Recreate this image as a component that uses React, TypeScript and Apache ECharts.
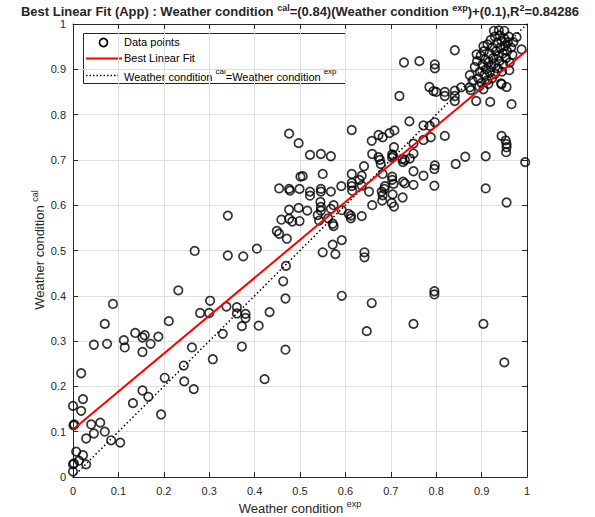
import React, { useEffect, useRef } from 'react';
import * as echarts from 'echarts';

// Data points: [Weather condition exp, Weather condition cal]
const lowPoints: number[][] = [
  [0.000, 0.012], [0.002, 0.030], [0.000, 0.028], [0.007, 0.056], [0.013, 0.036], [0.022, 0.048], [0.029, 0.028],
  [0.000, 0.157], [0.018, 0.146], [0.022, 0.172], [0.018, 0.229], [0.001, 0.114], [0.003, 0.116],
  [0.029, 0.085], [0.040, 0.116], [0.046, 0.096], [0.060, 0.120], [0.070, 0.100], [0.084, 0.081], [0.104, 0.076],
  [0.046, 0.292], [0.070, 0.338], [0.075, 0.294], [0.088, 0.382], [0.112, 0.302], [0.114, 0.286],
  [0.132, 0.163], [0.137, 0.318], [0.153, 0.191], [0.153, 0.308], [0.158, 0.313], [0.153, 0.276], [0.166, 0.177],
  [0.171, 0.294], [0.188, 0.310], [0.194, 0.138], [0.202, 0.219], [0.211, 0.344], [0.232, 0.412], [0.244, 0.246],
  [0.245, 0.211], [0.262, 0.286], [0.266, 0.194], [0.280, 0.362], [0.300, 0.362], [0.302, 0.389], [0.308, 0.260],
  [0.330, 0.316], [0.338, 0.376], [0.361, 0.375], [0.361, 0.361], [0.380, 0.360], [0.380, 0.351], [0.372, 0.333],
  [0.372, 0.288], [0.409, 0.334], [0.422, 0.216], [0.433, 0.364], [0.468, 0.394], [0.468, 0.281], [0.463, 0.432],
  [0.469, 0.466],
];

const midLeftPoints: number[][] = [
  [0.268, 0.499], [0.341, 0.577], [0.341, 0.489], [0.375, 0.487], [0.405, 0.504],
  [0.449, 0.543], [0.454, 0.537], [0.471, 0.526], [0.459, 0.568], [0.476, 0.590], [0.476, 0.570], [0.483, 0.564],
  [0.499, 0.565], [0.497, 0.594], [0.454, 0.637], [0.476, 0.636], [0.478, 0.632], [0.499, 0.636], [0.501, 0.663],
  [0.476, 0.758], [0.497, 0.737],
];

const midRightPoints: number[][] = [
  [0.719, 0.841], [0.797, 0.783], [0.741, 0.785], [0.772, 0.776], [0.786, 0.775],
  [0.614, 0.766], [0.673, 0.755], [0.682, 0.750], [0.697, 0.759], [0.708, 0.765], [0.658, 0.742],
  [0.750, 0.736], [0.772, 0.744], [0.788, 0.750], [0.819, 0.753],
  [0.944, 0.753], [0.953, 0.743], [0.955, 0.735], [0.955, 0.728], [0.954, 0.717],
  [0.522, 0.711], [0.546, 0.713], [0.568, 0.708], [0.659, 0.713], [0.707, 0.728],
  [0.703, 0.712], [0.705, 0.709], [0.703, 0.705], [0.673, 0.706], [0.676, 0.700], [0.678, 0.691],
  [0.725, 0.702], [0.727, 0.695], [0.731, 0.700], [0.742, 0.703], [0.750, 0.714],
  [0.864, 0.707], [0.909, 0.708], [0.843, 0.691], [0.797, 0.688], [0.796, 0.680], [0.996, 0.695],
  [0.506, 0.664], [0.550, 0.669], [0.641, 0.686], [0.614, 0.669], [0.636, 0.665], [0.631, 0.656], [0.682, 0.669],
  [0.703, 0.663], [0.703, 0.656], [0.706, 0.647], [0.750, 0.675], [0.772, 0.665], [0.727, 0.652], [0.731, 0.648],
  [0.750, 0.645], [0.796, 0.643], [0.909, 0.637],
  [0.522, 0.630], [0.522, 0.621], [0.546, 0.636], [0.546, 0.630], [0.568, 0.630], [0.591, 0.642],
  [0.614, 0.649], [0.614, 0.642], [0.615, 0.632], [0.636, 0.643], [0.652, 0.630],
  [0.680, 0.630], [0.682, 0.622], [0.687, 0.642], [0.686, 0.636],
  [0.704, 0.624], [0.702, 0.605], [0.707, 0.597], [0.681, 0.610], [0.659, 0.600], [0.726, 0.617],
  [0.516, 0.588], [0.545, 0.607], [0.546, 0.596], [0.546, 0.588], [0.539, 0.578], [0.542, 0.566],
  [0.568, 0.592], [0.574, 0.600], [0.562, 0.571], [0.572, 0.559], [0.574, 0.554], [0.592, 0.589],
  [0.607, 0.581], [0.612, 0.577], [0.612, 0.571], [0.636, 0.576],
  [0.592, 0.523], [0.572, 0.513], [0.550, 0.496], [0.578, 0.492], [0.642, 0.496], [0.642, 0.485],
  [0.796, 0.410], [0.796, 0.403], [0.592, 0.400], [0.955, 0.606],
];

const lowRightPoints: number[][] = [
  [0.658, 0.384], [0.647, 0.322], [0.750, 0.338], [0.904, 0.338], [0.950, 0.253],
];

const highPoints: number[][] = [
  [0.729, 0.915], [0.763, 0.918], [0.797, 0.911], [0.797, 0.902],
  [0.785, 0.861], [0.794, 0.852], [0.800, 0.850], [0.819, 0.850], [0.819, 0.841],
  [0.841, 0.853], [0.841, 0.841], [0.841, 0.830], [0.855, 0.860], [0.874, 0.860],
  [0.841, 0.942], [0.938, 0.986], [0.977, 0.971], [0.988, 0.944], [0.874, 0.887],
  [0.888, 0.830], [0.919, 0.828], [0.966, 0.823], [0.955, 0.861], [0.944, 0.867],
  [0.876, 0.854], [0.904, 0.856], [0.943, 0.869], [0.961, 0.898], [0.904, 0.951], [0.889, 0.933],
  [0.885, 0.905], [0.890, 0.918], [0.893, 0.880], [0.896, 0.895], [0.898, 0.930], [0.900, 0.870],
  [0.902, 0.910], [0.905, 0.940], [0.906, 0.888], [0.908, 0.922], [0.910, 0.900], [0.912, 0.875],
  [0.913, 0.955], [0.915, 0.915], [0.917, 0.935], [0.918, 0.893], [0.920, 0.965], [0.921, 0.905],
  [0.923, 0.880], [0.924, 0.948], [0.926, 0.925], [0.928, 0.912], [0.929, 0.972], [0.930, 0.890],
  [0.932, 0.940], [0.934, 0.958], [0.935, 0.902], [0.937, 0.930], [0.939, 0.918], [0.940, 0.975],
  [0.942, 0.948], [0.944, 0.962], [0.945, 0.895], [0.947, 0.935], [0.948, 0.910], [0.950, 0.968],
  [0.952, 0.952], [0.954, 0.925], [0.956, 0.940], [0.958, 0.960], [0.960, 0.972], [0.962, 0.915],
  [0.965, 0.948], [0.968, 0.932], [0.970, 0.960], [0.895, 0.862], [0.915, 0.868], [0.880, 0.875],
  [0.927, 0.985], [0.950, 0.985],
];

const xTickLabels = ['0', '0.1', '0.2', '0.3', '0.4', '0.5', '0.6', '0.7', '0.8', '0.9', '1'];
const yTickLabels = ['0', '0.1', '0.2', '0.3', '0.4', '0.5', '0.6', '0.7', '0.8', '0.9', '1'];

// Best linear fit: cal = slope * exp + intercept
const fitSlope = 0.837;
const fitIntercept = 0.105;
const axisRange = [0, 1];

const legendLabels = ['Data points', 'Best Linear Fit'];

const FONT = 'Liberation Sans, Arial, Helvetica, sans-serif';
const AX = '#262626';

export default function App() {
  const ref = useRef<HTMLDivElement>(null);

  useEffect(() => {
    if (!ref.current) return;
    const chart = echarts.init(ref.current, null, { renderer: 'svg' });
    const points = [...lowPoints, ...midLeftPoints, ...midRightPoints, ...lowRightPoints, ...highPoints];
    const fitLine = axisRange.map((x) => [x, fitSlope * x + fitIntercept]);
    const identityLine = axisRange.map((x) => [x, x]);

    const gridL = 73, gridT = 24, gridW = 454, gridH = 453;

    const supRich = (size: number, supSize: number, weight: string, lh: number, supLh: number) => ({
      m: { fontSize: size, fontWeight: weight, fontFamily: FONT, lineHeight: lh, verticalAlign: 'bottom', fill: AX, color: AX },
      s: { fontSize: supSize, fontWeight: weight, fontFamily: FONT, lineHeight: supLh, verticalAlign: 'top', fill: AX, color: AX },
    });

    const baseAxis = {
      type: 'value' as const,
      min: 0,
      max: 1,
      interval: 0.1,
      axisLine: { show: true, onZero: false, lineStyle: { color: AX, width: 1 } },
      axisTick: { show: true, inside: true, length: 5, lineStyle: { color: AX, width: 1 } },
    };

    const option: any = {
      animation: false,
      backgroundColor: '#ffffff',
      grid: { left: gridL, top: gridT, width: gridW, height: gridH, containLabel: false },
      xAxis: [
        {
          ...baseAxis,
          position: 'bottom',
          axisLabel: {
            show: true,
            margin: 8,
            color: AX,
            fontSize: 11,
            fontFamily: FONT,
            formatter: (v: number) => xTickLabels[Math.round(v * 10)] ?? '',
          },
          splitLine: { show: true, lineStyle: { color: '#dedede', width: 1 } },
        },
        {
          ...baseAxis,
          position: 'top',
          axisLabel: { show: false },
          splitLine: { show: false },
        },
      ],
      yAxis: [
        {
          ...baseAxis,
          position: 'left',
          axisLabel: {
            show: true,
            margin: 7,
            color: AX,
            fontSize: 11,
            fontFamily: FONT,
            formatter: (v: number) => yTickLabels[Math.round(v * 10)] ?? '',
          },
          splitLine: { show: true, lineStyle: { color: '#dedede', width: 1 } },
        },
        {
          ...baseAxis,
          position: 'right',
          axisLabel: { show: false },
          splitLine: { show: false },
        },
      ],
      series: [
        {
          name: legendLabels[0],
          type: 'scatter',
          xAxisIndex: 0,
          yAxisIndex: 0,
          data: points,
          symbol: 'circle',
          symbolSize: 8.5,
          itemStyle: { color: 'rgba(0,0,0,0)', borderColor: '#000000', borderWidth: 1.7 },
          emphasis: { disabled: true },
          z: 2,
        },
        {
          name: legendLabels[1],
          type: 'line',
          xAxisIndex: 0,
          yAxisIndex: 0,
          data: fitLine,
          showSymbol: false,
          lineStyle: { color: '#ff0000', width: 2 },
          z: 4,
        },
        {
          name: 'identity',
          type: 'line',
          xAxisIndex: 0,
          yAxisIndex: 0,
          data: identityLine,
          showSymbol: false,
          lineStyle: { color: '#000000', width: 1.5, type: [1.5, 2.5] },
          z: 3,
        },
      ],
      graphic: [
        {
          type: 'text',
          x: 300,
          y: 10.5,
          style: {
            text: '{m|Best Linear Fit (App) : Weather condition }{s|cal}{m|=(0.84)(Weather condition }{s|exp}{m|)+(0.1),R}{s|2}{m|=0.84286}',
            rich: supRich(13, 9, 'bold', 14, 8),
            align: 'center',
            verticalAlign: 'middle',
            fill: '#000',
          },
        },
        {
          type: 'text',
          x: 300,
          y: 507,
          style: {
            text: '{m|Weather condition }{s|exp}',
            rich: supRich(13, 9, 'normal', 16, 10),
            align: 'center',
            verticalAlign: 'middle',
          },
        },
        {
          type: 'text',
          x: 38,
          y: 250,
          rotation: Math.PI / 2,
          style: {
            text: '{m|Weather condition }{s|cal}',
            rich: supRich(13, 9, 'normal', 16, 10),
            align: 'center',
            verticalAlign: 'middle',
          },
        },
        {
          type: 'group',
          z: 100,
          children: [
            {
              type: 'rect',
              shape: { x: 83.5, y: 33.5, width: 262, height: 50 },
              style: { fill: '#ffffff', stroke: AX, lineWidth: 1 },
            },
            {
              type: 'circle',
              shape: { cx: 103.5, cy: 42.5, r: 4 },
              style: { fill: 'none', stroke: '#000', lineWidth: 1.7 },
            },
            {
              type: 'line',
              shape: { x1: 86, y1: 58.5, x2: 122, y2: 58.5 },
              style: { stroke: '#ff0000', lineWidth: 2 },
            },
            {
              type: 'line',
              shape: { x1: 86, y1: 75.5, x2: 120, y2: 75.5 },
              style: { stroke: '#000', lineWidth: 1.5, lineDash: [1.5, 2] },
            },
            {
              type: 'text',
              x: 124,
              y: 42,
              style: { text: legendLabels[0], fontSize: 11, fontFamily: FONT, fill: '#000', verticalAlign: 'middle' },
            },
            {
              type: 'text',
              x: 124,
              y: 58,
              style: { text: legendLabels[1], fontSize: 11, fontFamily: FONT, fill: '#000', verticalAlign: 'middle' },
            },
            {
              type: 'text',
              x: 124,
              y: 75,
              style: {
                text: '{m|Weather condition }{s|cal}{m|=Weather condition }{s|exp}',
                rich: {
                  m: { fontSize: 11, fontFamily: FONT, lineHeight: 15, verticalAlign: 'bottom', fill: '#000' },
                  s: { fontSize: 8, fontFamily: FONT, lineHeight: 9, verticalAlign: 'top', fill: '#000' },
                },
                verticalAlign: 'middle',
              },
            },
          ],
        },
      ],
    };

    chart.setOption(option);
    return () => chart.dispose();
  }, []);

  return (
    <div
      ref={ref}
      style={{ position: 'fixed', left: 0, top: 0, width: 595, height: 517, background: '#fff' }}
    />
  );
}
